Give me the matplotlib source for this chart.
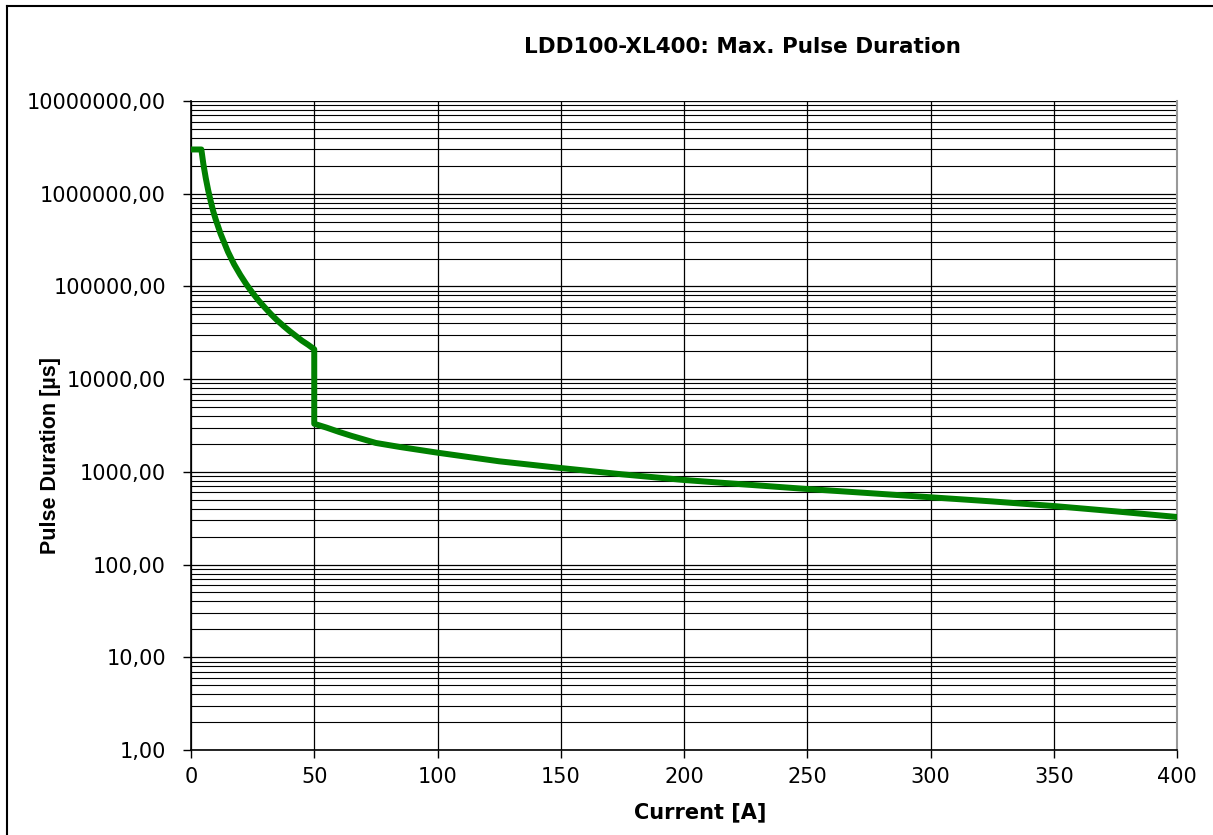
import matplotlib
matplotlib.use("Agg")
import matplotlib.pyplot as plt
from matplotlib.ticker import FixedLocator, LogLocator, NullFormatter, FuncFormatter
from matplotlib.lines import Line2D

# values (current in A, pulse duration in µs)
strom = [0, 4.2, 5, 6, 7, 8, 9, 10, 12, 15, 17.5, 20, 22.5, 25, 27.5, 30,
         32.5, 35, 37.5, 40, 42.5, 45, 47.5, 50,
         50, 55, 60, 65, 75, 85, 100, 125, 150, 175, 200, 225, 250, 275,
         300, 325, 350, 375, 400]
dauer = [3.0e6, 3.0e6, 2.1e6, 1.47e6, 1.08e6, 8.3e5, 6.5e5, 5.3e5, 3.7e5,
         2.36e5, 1.73e5, 1.33e5, 1.05e5, 8.5e4, 7.0e4, 5.9e4, 5.0e4, 4.3e4,
         3.75e4, 3.3e4, 2.93e4, 2.6e4, 2.35e4, 2.1e4,
         3300, 3000, 2700, 2450, 2050, 1850, 1610, 1300, 1100, 940, 817, 730,
         653, 590, 532, 480, 428, 375, 326]

x_ticks = [0, 50, 100, 150, 200, 250, 300, 350, 400]
y_ticks = [1, 10, 100, 1000, 10000, 100000, 1000000, 10000000]

fig = plt.figure(figsize=(12.13, 8.35), dpi=100)
ax = fig.add_axes([191 / 1213, 1 - 750 / 835, 986 / 1213, 649 / 835])

ax.plot(strom, dauer, color="#008000", linewidth=4.3, solid_joinstyle="round",
        zorder=3)

ax.set_yscale("log")
ax.set_xlim(0, 400)
ax.set_ylim(1, 1e7)

ax.xaxis.set_major_locator(FixedLocator(x_ticks))
ax.yaxis.set_major_locator(FixedLocator(y_ticks))
ax.yaxis.set_minor_locator(LogLocator(base=10, subs=range(2, 10), numticks=50))
ax.yaxis.set_minor_formatter(NullFormatter())
ax.yaxis.set_major_formatter(FuncFormatter(lambda v, p: f"{v:.2f}".replace(".", ",")))

ax.grid(True, which="major", axis="both", color="black", linewidth=0.9)
ax.grid(True, which="minor", axis="y", color="black", linewidth=0.8)
ax.set_axisbelow(True)

ax.tick_params(axis="both", which="major", direction="out", length=6, width=1,
               labelsize=15, colors="black", pad=6)
ax.tick_params(axis="y", which="minor", length=0)
ax.tick_params(axis="y", which="major", pad=12, length=6)

for s in ["left", "bottom"]:
    ax.spines[s].set_linewidth(1.2)
ax.spines["top"].set_visible(False)
ax.spines["right"].set_color("#999999")
ax.spines["right"].set_linewidth(1.5)

ax.set_xlabel("Current [A]", fontsize=15, fontweight="bold")
ax.xaxis.set_label_coords(0.516, -0.08)

fig.text(51 / 1213, 1 - 455 / 835, "Pulse Duration [µs]", rotation=90,
         fontsize=15.5, fontweight="bold", family="Liberation Sans",
         ha="center", va="center")

fig.text(742 / 1213, 1 - 47 / 835, "LDD100-XL400: Max. Pulse Duration",
         fontsize=15.5, fontweight="bold", ha="center", va="center")

# Rahmen um das Diagramm
fig.add_artist(Line2D([7 / 1213, 7 / 1213], [0, 1 - 6 / 835], color="black",
                      linewidth=1.5, transform=fig.transFigure))
fig.add_artist(Line2D([7 / 1213, 1], [1 - 6 / 835, 1 - 6 / 835], color="black",
                      linewidth=1.5, transform=fig.transFigure))

fig.savefig("out.png", dpi=100)
